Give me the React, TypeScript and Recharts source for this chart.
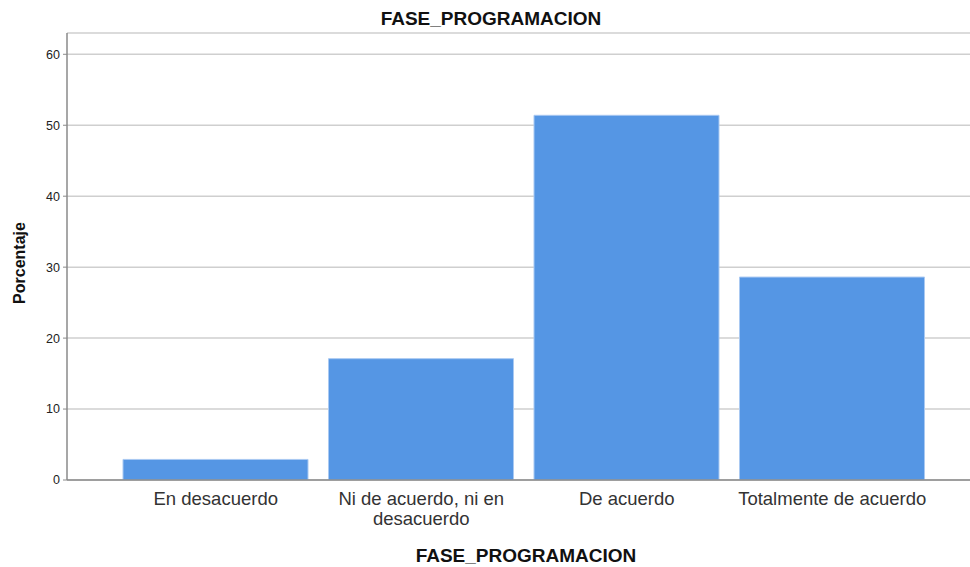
import { BarChart, Bar, XAxis, YAxis, CartesianGrid, Text } from 'recharts';

const categories = ['En desacuerdo', 'Ni de acuerdo, ni en desacuerdo', 'De acuerdo', 'Totalmente de acuerdo'];
const percentages = [2.9, 17.1, 51.4, 28.6];
const yTicks = [0, 10, 20, 30, 40, 50, 60];

const data = categories.map((name, i) => ({ name, pct: percentages[i] }));

const font = '"Liberation Sans", Arial, sans-serif';

function CategoryTick(props: any) {
  const { x, y, payload } = props;
  return (
    <Text
      x={x}
      y={y + 4}
      width={200}
      textAnchor="middle"
      verticalAnchor="start"
      lineHeight={20}
      fontSize={18.5}
      fill="#333"
      fontFamily={font}
    >
      {payload.value}
    </Text>
  );
}

export default function App() {
  return (
    <div style={{ position: 'absolute', left: 0, top: 0, width: 970, height: 567, background: '#fff', fontFamily: font }}>
      {/* titles */}
      <div style={{ position: 'absolute', top: 9, left: 491 - 300, width: 600, textAlign: 'center', fontWeight: 'bold', fontSize: 19, lineHeight: '19px', color: '#111' }}>
        FASE_PROGRAMACION
      </div>
      <div style={{ position: 'absolute', top: 546, left: 526 - 300, width: 600, textAlign: 'center', fontWeight: 'bold', fontSize: 19, lineHeight: '19px', color: '#111' }}>
        FASE_PROGRAMACION
      </div>
      <div
        style={{
          position: 'absolute',
          left: 20,
          top: 263,
          transform: 'translate(-50%, -50%) rotate(-90deg)',
          fontWeight: 'bold',
          fontSize: 16,
          lineHeight: '16px',
          color: '#111',
          whiteSpace: 'nowrap',
        }}
      >
        Porcentaje
      </div>

      <BarChart
        width={970}
        height={567}
        data={data}
        margin={{ top: 33, right: 0, bottom: 0, left: 0 }}
        style={{ position: 'absolute', left: 0, top: 0 }}
      >
        <CartesianGrid horizontal vertical={false} stroke="#cfcfcf" strokeWidth={1.5} />
        <XAxis
          dataKey="name"
          height={87}
          padding={{ left: 46, right: 35 }}
          axisLine={{ stroke: '#8a8a8a', strokeWidth: 1.5 }}
          tickLine={false}
          tick={<CategoryTick />}
          interval={0}
        />
        <YAxis
          width={67}
          domain={[0, 63]}
          ticks={yTicks}
          allowDataOverflow
          axisLine={{ stroke: '#8a8a8a', strokeWidth: 1.5 }}
          tickLine={{ stroke: '#8a8a8a' }}
          tickSize={4}
          tickMargin={3}
          tick={{ fontSize: 12.5, fill: '#222', fontFamily: font }}
        />
        <Bar dataKey="pct" fill="#5596e4" stroke="#a9c9f2" strokeWidth={1} barSize={185} isAnimationActive={false} />
      </BarChart>
    </div>
  );
}
